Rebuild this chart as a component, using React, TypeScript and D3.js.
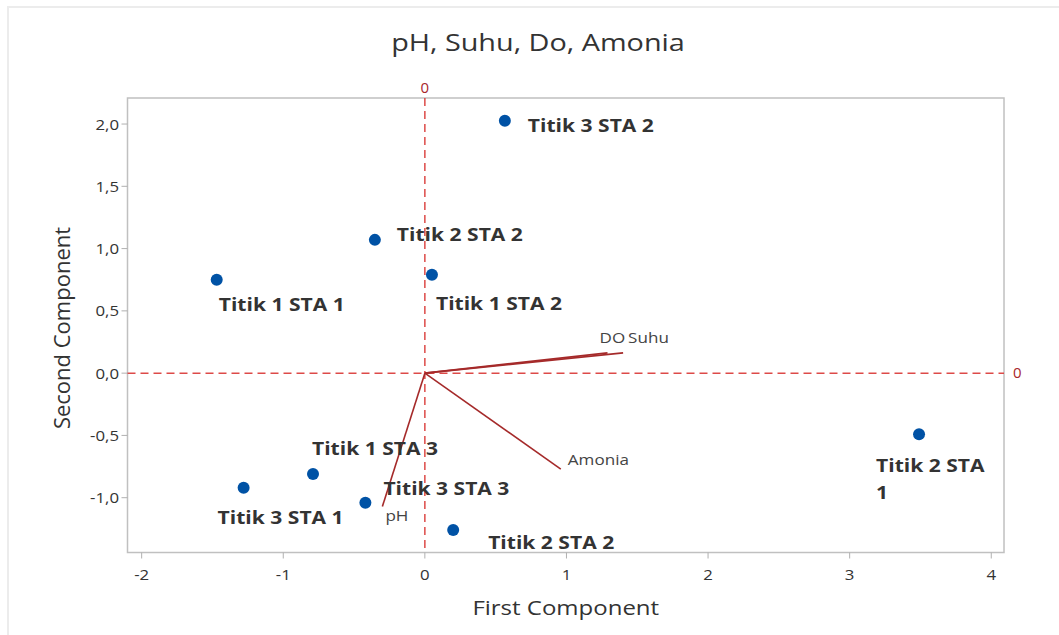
import React, { useEffect, useRef } from 'react';
import * as d3 from 'd3';

// scores (first component, second component)
const pointNames = [
  'Titik 1 STA 1', 'Titik 2 STA 1', 'Titik 3 STA 1',
  'Titik 1 STA 2', 'Titik 2 STA 2', 'Titik 3 STA 2',
  'Titik 1 STA 3', 'Titik 2 STA 2', 'Titik 3 STA 3',
];
const pc1 = [-1.47, 3.49, -1.28, 0.05, 0.2, 0.565, -0.79, -0.353, -0.42];
const pc2 = [0.75, -0.49, -0.92, 0.79, -1.26, 2.026, -0.81, 1.07, -1.04];

// label placement relative to each point (px): dx, dy of text baseline
const labelDx = [2, -43, -26, 4, 35, 23, -1, 22, 18];
const labelDy = [31, 38, 36, 35, 19, 11, -19, 1, -8];

// loadings
const loadNames = ['DO', 'Suhu', 'Amonia', 'pH'];
const load1 = [1.29, 1.4, 0.96, -0.3];
const load2 = [0.163, 0.163, -0.77, -1.07];
const loadDx = [-8, 5, 7, 3];
const loadDy = [-10, -10, -4, 15];

const xTicks = [-2, -1, 0, 1, 2, 3, 4];
const yTicks = [-1.0, -0.5, 0.0, 0.5, 1.0, 1.5, 2.0];

const W = 1059;
const H = 635;

export default function App() {
  const svgRef = useRef<SVGSVGElement>(null);

  useEffect(() => {
    if (!svgRef.current) return;
    const svg = d3.select(svgRef.current);
    svg.selectAll('*').remove();

    const font = "'Open Sans', 'Noto Sans', sans-serif";
    const left = 127.5, right = 1004, top = 98, bottom = 552.5;

    const x = d3.scaleLinear().domain([-2.1, 4.09]).range([left, right]);
    const y = d3.scaleLinear().domain([-1.44, 2.209]).range([bottom, top]);

    // text that is a bit wider than the font, like the source picture
    const wideText = (g: any, tx: number, ty: number, sx: number, s: string) =>
      g.append('text')
        .attr('transform', `translate(${tx},${ty}) scale(${sx},1)`)
        .attr('font-family', font)
        .text(s);

    // outer light border
    svg.append('rect')
      .attr('x', 8).attr('y', 7).attr('width', W + 20).attr('height', H + 20)
      .attr('fill', 'white').attr('stroke', '#ececec').attr('stroke-width', 2);

    // title
    wideText(svg, 538, 51, 1.2, 'pH, Suhu, Do, Amonia')
      .attr('text-anchor', 'middle')
      .attr('font-size', 24)
      .attr('fill', '#333');

    // frame
    svg.append('rect')
      .attr('x', left).attr('y', top)
      .attr('width', right - left).attr('height', bottom - top)
      .attr('fill', 'none').attr('stroke', '#c0c0c0').attr('stroke-width', 1.5);

    // ticks
    const gx = svg.append('g');
    xTicks.forEach(t => {
      gx.append('line')
        .attr('x1', x(t)).attr('x2', x(t))
        .attr('y1', bottom).attr('y2', bottom + 6)
        .attr('stroke', '#b0b0b0').attr('stroke-width', 1);
      wideText(gx, x(t), bottom + 27, 1.12, t < 0 ? '-' + Math.abs(t) : String(t))
        .attr('text-anchor', 'middle')
        .attr('font-size', 15)
        .attr('fill', '#333');
    });

    const fmt = (v: number) => (v < 0 ? '-' : '') + Math.abs(v).toFixed(1).replace('.', ',');
    const gy = svg.append('g');
    yTicks.forEach(t => {
      gy.append('line')
        .attr('x1', left - 6).attr('x2', left)
        .attr('y1', y(t)).attr('y2', y(t))
        .attr('stroke', '#b0b0b0').attr('stroke-width', 1);
      wideText(gy, left - 8.5, y(t) + 5.5, 1.12, fmt(t))
        .attr('text-anchor', 'end')
        .attr('font-size', 15)
        .attr('fill', '#333');
    });

    // axis titles
    wideText(svg, (left + right) / 2, 615, 1.2, 'First Component')
      .attr('text-anchor', 'middle')
      .attr('font-size', 20)
      .attr('fill', '#333');

    svg.append('text')
      .attr('transform', `translate(70, 328) rotate(-90)`)
      .attr('text-anchor', 'middle')
      .attr('font-family', font).attr('font-size', 22)
      .attr('fill', '#333')
      .text('Second Component');

    // reference lines at 0
    svg.append('line')
      .attr('x1', x(0)).attr('x2', x(0)).attr('y1', top).attr('y2', bottom)
      .attr('stroke', '#dd4a48').attr('stroke-width', 1.5)
      .attr('stroke-dasharray', '8,5');
    svg.append('line')
      .attr('x1', left).attr('x2', right).attr('y1', y(0)).attr('y2', y(0))
      .attr('stroke', '#dd4a48').attr('stroke-width', 1.5)
      .attr('stroke-dasharray', '8,5');
    svg.append('text')
      .attr('x', x(0)).attr('y', top - 5)
      .attr('text-anchor', 'middle')
      .attr('font-family', font).attr('font-size', 15)
      .attr('fill', '#a8262a')
      .text('0');
    svg.append('text')
      .attr('x', right + 9).attr('y', y(0) + 5)
      .attr('font-family', font).attr('font-size', 15)
      .attr('fill', '#a8262a')
      .text('0');

    // loading vectors
    const gl = svg.append('g');
    loadNames.forEach((name, i) => {
      gl.append('line')
        .attr('x1', x(0)).attr('y1', y(0))
        .attr('x2', x(load1[i])).attr('y2', y(load2[i]))
        .attr('stroke', '#a52a2a').attr('stroke-width', 1.6);
      wideText(gl, x(load1[i]) + loadDx[i], y(load2[i]) + loadDy[i], 1.22, name)
        .attr('font-size', 14)
        .attr('fill', '#444');
    });

    // score points
    const gp = svg.append('g');
    pointNames.forEach((name, i) => {
      gp.append('circle')
        .attr('cx', x(pc1[i])).attr('cy', y(pc2[i]))
        .attr('r', 6)
        .attr('fill', '#0052a5');
      const t = wideText(gp, x(pc1[i]) + labelDx[i], y(pc2[i]) + labelDy[i], 1.17, '')
        .attr('font-size', 18).attr('font-weight', 'bold')
        .attr('fill', '#333');
      if (name === 'Titik 2 STA 1') {
        t.append('tspan').text('Titik 2 STA');
        t.append('tspan').attr('x', 0).attr('dy', 27).text('1');
      } else {
        t.text(name);
      }
    });
  }, []);

  return (
    <svg
      ref={svgRef}
      width={W}
      height={H}
      viewBox={`0 0 ${W} ${H}`}
      style={{ position: 'absolute', left: 0, top: 0, background: 'white' }}
    />
  );
}
